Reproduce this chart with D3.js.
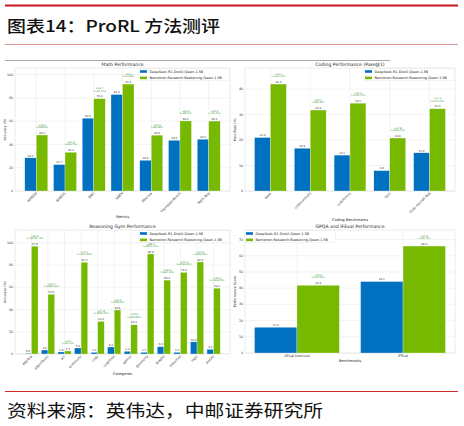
<!DOCTYPE html>
<html>
<head>
<meta charset="utf-8">
<script src="https://cdn.jsdelivr.net/npm/d3@7"></script>
<style>
  body { margin: 0; background: #fff; }
  svg { display: block; }
</style>
</head>
<body>
<div id="chart"></div>
<script>
// ProRL evaluation: four grouped bar panels (DeepSeek base vs Nemotron ProRL)

const seriesNames = ["DeepSeek-R1-Distill-Qwen-1.5B", "Nemotron-Research-Reasoning-Qwen-1.5B"];

const mathMetrics = ["AIME24", "AIME25", "AMC", "MATH", "Minerva", "Olympiad Bench", "Math Avg"];
const mathBase = [28.5, 22.7, 62.6, 82.9, 26.4, 43.6, 44.5];
const mathProrl = [48.1, 33.3, 79.3, 91.9, 48.0, 60.2, 60.1];

const codeBench = ["apps", "codecontests", "codeforces", "taco", "Code Overall Avg"];
const codeBase = [21.0, 16.8, 14.1, 8.0, 15.0];
const codeProrl = [42.0, 31.8, 34.5, 20.8, 32.3];

const gymCats = ["algebra", "algorithmic", "arc", "arithmetic", "code", "cognition",
  "games", "geometry", "graphs", "induction", "logic", "puzzle"];
const gymBase = [0.6, 3.6, 1.8, 5.4, 1.5, 6.3, 2.4, 1.5, 6.6, 1.5, 10.9, 4.2];
const gymProrl = [97.0, 53.8, 2.7, 82.5, 29.3, 39.6, 26.3, 90.0, 66.5, 73.4, 82.8, 59.2];

const gpqaBench = ["GPQA Diamond", "IFEval"];
const gpqaBase = [15.9, 44.1];
const gpqaProrl = [41.8, 66.0];

const width = 464, height = 426;
const blue = "#0070c0", green = "#76b900", noteGreen = "#1f8f1f";
const fmt = d3.format(".1f");
const font = "DejaVu Sans, sans-serif";

const svg = d3.select("#chart").append("svg")
  .attr("width", width)
  .attr("height", height)
  .attr("viewBox", [0, 0, width, height]);

svg.append("rect").attr("width", width).attr("height", height).attr("fill", "#fff");

// report header / footer
svg.append("line").attr("x1", 5).attr("x2", 458).attr("y1", 5.5).attr("y2", 5.5)
  .attr("stroke", "#c8161d").attr("stroke-width", 2);
svg.append("text").attr("x", 7).attr("y", 32)
  .attr("font-family", "Noto Sans CJK SC").attr("font-size", 16).attr("font-weight", 500)
  .attr("textLength", 213).attr("lengthAdjust", "spacingAndGlyphs")
  .attr("fill", "#111").text("图表14：ProRL 方法测评");
svg.append("line").attr("x1", 5).attr("x2", 458).attr("y1", 44.5).attr("y2", 44.5)
  .attr("stroke", "#e39a9a").attr("stroke-width", 1);
svg.append("line").attr("x1", 5).attr("x2", 390).attr("y1", 60.5).attr("y2", 60.5)
  .attr("stroke", "#a8a8a8").attr("stroke-width", 1);

svg.append("line").attr("x1", 5).attr("x2", 458).attr("y1", 391.5).attr("y2", 391.5)
  .attr("stroke", "#d42a2a").attr("stroke-width", 1);
svg.append("text").attr("x", 7).attr("y", 417)
  .attr("font-family", "Noto Sans CJK SC").attr("font-size", 17)
  .attr("textLength", 316).attr("lengthAdjust", "spacingAndGlyphs")
  .attr("fill", "#111").text("资料来源：英伟达，中邮证券研究所");

function panel(cfg) {
  const n = cfg.cats.length;
  const m = 0.05 * (n - 1 + 0.8);
  const x = d3.scaleLinear().domain([-0.4 - m, n - 1 + 0.4 + m]).range([cfg.left, cfg.right]);
  const y = d3.scaleLinear().domain([0, d3.max(cfg.prorl) * 1.15]).range([cfg.bottom, cfg.top]);
  const g = svg.append("g");

  // grid
  const yt = y.ticks(6);
  g.append("g").selectAll("line").data(yt).join("line")
    .attr("x1", cfg.left).attr("x2", cfg.right)
    .attr("y1", d => y(d)).attr("y2", d => y(d))
    .attr("stroke", "#e6e6e6").attr("stroke-width", 0.5);
  g.append("g").selectAll("line").data(d3.range(n)).join("line")
    .attr("x1", d => x(d)).attr("x2", d => x(d))
    .attr("y1", cfg.top).attr("y2", cfg.bottom)
    .attr("stroke", "#e6e6e6").attr("stroke-width", 0.5);
  g.append("rect").attr("x", cfg.left).attr("y", cfg.top)
    .attr("width", cfg.right - cfg.left).attr("height", cfg.bottom - cfg.top)
    .attr("fill", "none").attr("stroke", "#dcdcdc").attr("stroke-width", 0.6);

  // bars
  const rows = cfg.cats.map((c, i) => ({ i, base: cfg.base[i], prorl: cfg.prorl[i] }));
  g.append("g").selectAll("rect").data(rows).join("rect")
    .attr("x", d => x(d.i - 0.4)).attr("width", d => x(d.i) - x(d.i - 0.4))
    .attr("y", d => y(d.base)).attr("height", d => y(0) - y(d.base))
    .attr("fill", blue).attr("stroke", "#fff").attr("stroke-width", 0.3);
  g.append("g").selectAll("rect").data(rows).join("rect")
    .attr("x", d => x(d.i)).attr("width", d => x(d.i + 0.4) - x(d.i))
    .attr("y", d => y(d.prorl)).attr("height", d => y(0) - y(d.prorl))
    .attr("fill", green).attr("stroke", "#fff").attr("stroke-width", 0.3);

  // value labels
  const vl = g.append("g").attr("font-family", font).attr("font-size", 2.7)
    .attr("fill", "#333").attr("text-anchor", "middle");
  vl.selectAll(".b").data(rows).join("text").attr("class", "b")
    .attr("x", d => x(d.i - 0.2)).attr("y", d => y(d.base) - 1.3).text(d => fmt(d.base));
  vl.selectAll(".p").data(rows).join("text").attr("class", "p")
    .attr("x", d => x(d.i + 0.2)).attr("y", d => y(d.prorl) - 1.3).text(d => fmt(d.prorl));

  const an = g.append("g").attr("font-family", font).attr("font-size", 2.5)
    .attr("fill", noteGreen).attr("text-anchor", "middle");
  an.selectAll(".d").data(rows).join("text").attr("class", "d")
    .attr("x", d => x(d.i + 0.2)).attr("y", d => y(d.prorl) - 9.4)
    .text(d => "+" + fmt(d.prorl - d.base));
  an.selectAll(".r").data(rows).join("text").attr("class", "r")
    .attr("x", d => x(d.i + 0.2)).attr("y", d => y(d.prorl) - 7.1)
    .text(d => "(+" + fmt((d.prorl - d.base) / d.base * 100) + "%)");

  // y ticks
  g.append("g").attr("font-family", font).attr("font-size", 3.3).attr("fill", "#333")
    .attr("text-anchor", "end")
    .selectAll("text").data(yt).join("text")
    .attr("x", cfg.left - 1.8).attr("y", d => y(d) + 1.1).text(d => d);

  // x ticks
  const xt = g.append("g").attr("font-family", font).attr("font-size", 3.3).attr("fill", "#333");
  if (cfg.rotate) {
    xt.selectAll("text").data(cfg.cats).join("text")
      .attr("text-anchor", "end")
      .attr("transform", (d, i) => `translate(${x(i) + 1},${cfg.bottom + 2.5}) rotate(-45)`)
      .text(d => d);
  } else {
    xt.selectAll("text").data(cfg.cats).join("text")
      .attr("text-anchor", "middle")
      .attr("x", (d, i) => x(i)).attr("y", cfg.bottom + 4.3)
      .text(d => d);
  }

  // titles
  const cx = (cfg.left + cfg.right) / 2;
  g.append("text").attr("x", cx).attr("y", cfg.top - 2.5).attr("text-anchor", "middle")
    .attr("font-family", font).attr("font-size", 4.6).attr("fill", "#222").text(cfg.title);
  g.append("text").attr("x", cx).attr("y", cfg.bottom + cfg.xlabOff).attr("text-anchor", "middle")
    .attr("font-family", font).attr("font-size", 3.6).attr("fill", "#222").text(cfg.xlabel);
  g.append("text").attr("transform", `translate(${cfg.left - 9},${(cfg.top + cfg.bottom) / 2}) rotate(-90)`)
    .attr("text-anchor", "middle")
    .attr("font-family", font).attr("font-size", 3.3).attr("fill", "#222").text(cfg.ylabel);

  // legend
  const lx = cfg.legendLeft ? cfg.left + 1 : cfg.right - 90;
  const leg = g.append("g").attr("font-family", font).attr("font-size", 3.4).attr("fill", "#222");
  leg.append("rect").attr("x", lx - 1).attr("y", cfg.top + 0.8).attr("width", 90.5).attr("height", 12)
    .attr("fill", "#fff").attr("fill-opacity", 0.85).attr("stroke", "#e2e2e2").attr("stroke-width", 0.4);
  leg.selectAll(".sw").data(seriesNames).join("rect").attr("class", "sw")
    .attr("x", lx).attr("y", (d, i) => cfg.top + 2.2 + i * 6.4)
    .attr("width", 7).attr("height", 2.6)
    .attr("fill", (d, i) => i ? green : blue);
  leg.selectAll("text").data(seriesNames).join("text")
    .attr("x", lx + 9.5).attr("y", (d, i) => cfg.top + 4.6 + i * 6.4).text(d => d);
}

panel({ cats: mathMetrics, base: mathBase, prorl: mathProrl,
  left: 15, right: 230, top: 68, bottom: 191, rotate: true,
  title: "Math Performance", xlabel: "Metrics", xlabOff: 27, ylabel: "Accuracy (%)" });

panel({ cats: codeBench, base: codeBase, prorl: codeProrl,
  left: 245, right: 455, top: 68, bottom: 191, rotate: true,
  title: "Coding Performance (Pass@1)", xlabel: "Coding Benchmarks", xlabOff: 29.5, ylabel: "Pass Rate (%)" });

panel({ cats: gymCats, base: gymBase, prorl: gymProrl,
  left: 15, right: 230, top: 230, bottom: 354, rotate: true,
  title: "Reasoning Gym Performance", xlabel: "Categories", xlabOff: 21, ylabel: "Accuracy (%)" });

panel({ cats: gpqaBench, base: gpqaBase, prorl: gpqaProrl,
  left: 245, right: 455, top: 230, bottom: 353, rotate: false, legendLeft: true,
  title: "GPQA and IFEval Performance", xlabel: "Benchmarks", xlabOff: 9, ylabel: "Performance Score" });
</script>
</body>
</html>
